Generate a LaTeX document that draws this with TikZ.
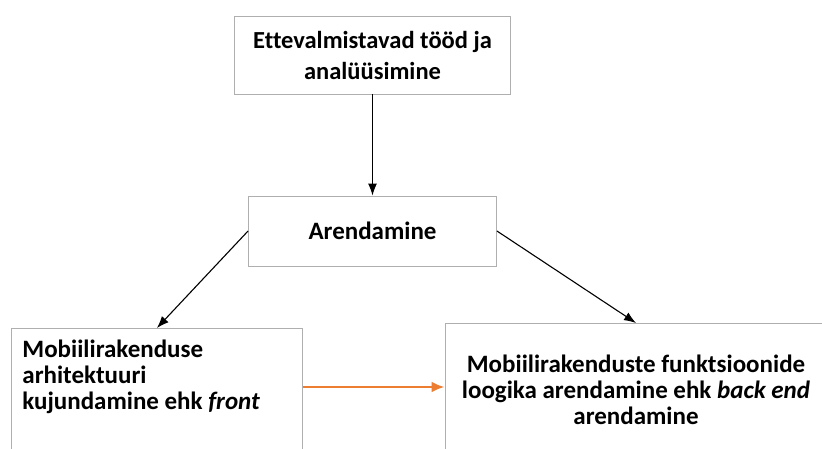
\documentclass[tikz,border=0pt]{standalone}
\usepackage{fontspec}
\setmainfont[Ligatures=NoCommon]{Carlito}
\usetikzlibrary{arrows.meta}
\definecolor{boxgray}{RGB}{175,175,175}
\definecolor{arroworange}{RGB}{237,125,49}

\begin{document}
\begin{tikzpicture}[x=1pt,y=-1pt,>={Latex[length=12pt,width=9pt]},
	box/.style={draw=boxgray,line width=0.9pt,font=\bfseries\fontsize{25}{26}\selectfont},
	link/.style={->,line width=1.1pt},
	flow/.style={-{Latex[length=13pt,width=11pt]},line width=2.6pt,color=arroworange}]
\useasboundingbox (0,0) rectangle (822,448);
\clip (0,0) rectangle (822,448);
\fill[white] (0,0) rectangle (822,448);

\node[box,font=\bfseries\fontsize{24.5}{31}\selectfont,align=flush center,
	minimum width=276pt,minimum height=78pt] (prep) at (372.5,55)
	{Ettevalmistavad tööd ja\\analüüsimine};
\node[box,minimum width=248pt,minimum height=70pt] (dev) at (372.5,231) {Arendamine};
% alumised kastid jaavad pildi servast valja
\node[box,anchor=north west,align=flush left,text width=269pt,inner xsep=11pt,inner ysep=11.5pt]
	(front) at (11,328)
	{Mobiilirakenduse\\arhitektuuri\\kujundamine ehk \textit{front}\rule[-80pt]{0pt}{1pt}};
\node[box,anchor=north,align=flush center,text width=370pt,inner xsep=6pt,inner ysep=31.5pt]
	(back) at (636,323)
	{Mobiilirakenduste funktsioonide\\loogika arendamine ehk \textit{back end}\\arendamine\rule[-80pt]{0pt}{1pt}};

\draw[link] (prep) -- (dev);
\draw[link] (dev.west) -- (front.north);
\draw[link] (dev.east) -- (back.north);
\draw[flow] ([yshift=-59pt]front.north east) -- ([yshift=-64pt]back.north west);
\end{tikzpicture}
\end{document}
